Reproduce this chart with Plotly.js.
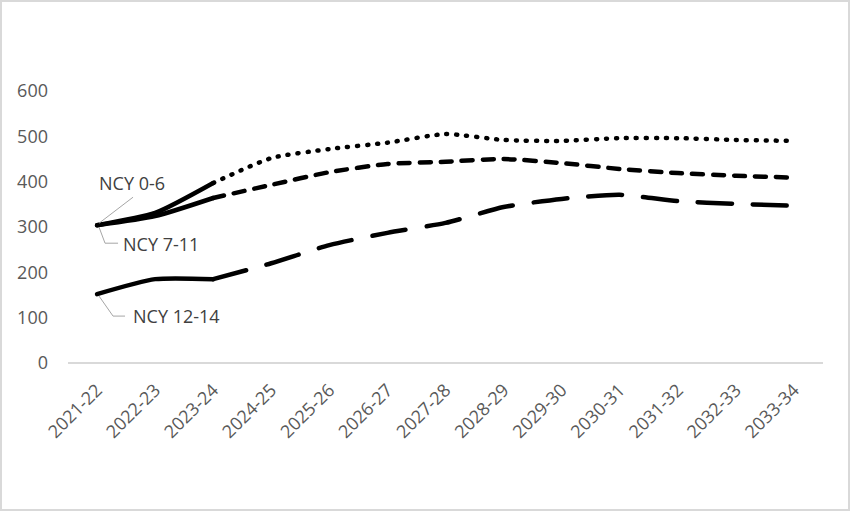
<!DOCTYPE html>
<html>
<head>
<meta charset="utf-8">
<script src="https://cdn.plot.ly/plotly-3.0.1.min.js"></script>
<style>
  html, body { margin: 0; padding: 0; background: #fff; }
  #wrap { position: relative; width: 850px; height: 511px; }
  #chart { width: 850px; height: 511px; }
  #frame { position: absolute; left: 0; top: 0; width: 850px; height: 511px; box-sizing: border-box; border: 2px solid #d9d9d9; pointer-events: none; }
  #chart path.js-line { stroke-linecap: round; stroke-linejoin: round; }
</style>
</head>
<body>
<div id="wrap"><div id="chart"></div><div id="frame"></div></div>
<script>
const years = ["2021-22","2022-23","2023-24","2024-25","2025-26","2026-27","2027-28","2028-29","2029-30","2030-31","2031-32","2032-33","2033-34"];
const ncy06   = [304, 331, 397, 452, 472, 486, 505, 492, 490, 496, 496, 492, 490];
const ncy711  = [304, 324, 364, 393, 421, 439, 444, 450, 441, 428, 419, 413, 409];
const ncy1214 = [152, 185, 185, 220, 260, 287, 309, 344, 362, 371, 357, 351, 347];
const seriesNames = ["NCY 0-6", "NCY 7-11", "NCY 12-14"];
const actualCount = 3; // actual data up to 2023-24, projections afterwards

const allSeries = [ncy06, ncy711, ncy1214];
const projDash = ["1px,9px", "11px,10px", "34px,21px"];

const traces = [];
allSeries.forEach((vals, i) => {
  traces.push({
    x: years.slice(0, actualCount), y: vals.slice(0, actualCount),
    type: "scatter", mode: "lines", name: seriesNames[i],
    line: { color: "#000", width: 4.5, shape: "spline", smoothing: 0.6 },
    hoverinfo: "skip", showlegend: false
  });
  traces.push({
    x: years.slice(actualCount - 1), y: vals.slice(actualCount - 1),
    type: "scatter", mode: "lines", name: seriesNames[i] + " projection",
    line: { color: "#000", width: 4.5, dash: projDash[i], shape: "spline", smoothing: 0.6 },
    hoverinfo: "skip", showlegend: false
  });
});

const labelFont = { family: "Open Sans, sans-serif", size: 18, color: "#404040" };
const annotations = [
  { x: years[0], y: ncy06[0], text: seriesNames[0], showarrow: false, xanchor: "center", yanchor: "middle", xshift: 35, yshift: 42, font: labelFont },
  { x: years[0], y: ncy711[0], text: seriesNames[1], showarrow: false, xanchor: "left", yanchor: "middle", xshift: 24, yshift: -19, font: labelFont },
  { x: years[0], y: ncy1214[0], text: seriesNames[2], showarrow: false, xanchor: "left", yanchor: "middle", xshift: 34, yshift: -22, font: labelFont }
];
const leader = { color: "#a6a6a6", width: 1 };
const shapes = [
  { type: "path", xref: "x", yref: "y", xsizemode: "pixel", ysizemode: "pixel", xanchor: years[0], yanchor: ncy06[0], path: "M2,2 L36,28", line: leader },
  { type: "path", xref: "x", yref: "y", xsizemode: "pixel", ysizemode: "pixel", xanchor: years[0], yanchor: ncy711[0], path: "M2,-2 L8,-18 L21,-18", line: leader },
  { type: "path", xref: "x", yref: "y", xsizemode: "pixel", ysizemode: "pixel", xanchor: years[0], yanchor: ncy1214[0], path: "M2,-2 L16,-22 L28,-22", line: leader }
];

const layout = {
  width: 850, height: 511,
  margin: { l: 68, r: 27, t: 91, b: 148 },
  paper_bgcolor: "#fff", plot_bgcolor: "#fff",
  showlegend: false,
  xaxis: {
    type: "category", categoryarray: years, range: [-0.5, 12.5],
    showgrid: false, zeroline: false, showline: false,
    ticks: "", tickangle: -45, ticklabelstandoff: 12,
    tickfont: { family: "Open Sans, sans-serif", size: 18, color: "#595959" }
  },
  yaxis: {
    range: [0, 600], tickvals: [0, 100, 200, 300, 400, 500, 600],
    showgrid: false, zeroline: true, zerolinecolor: "#d9d9d9", zerolinewidth: 1.5,
    showline: false, ticks: "", ticklabelstandoff: 19,
    tickfont: { family: "Open Sans, sans-serif", size: 18, color: "#595959" }
  },
  annotations: annotations,
  shapes: shapes
};

Plotly.newPlot("chart", traces, layout, { staticPlot: true, displayModeBar: false });
</script>
</body>
</html>
